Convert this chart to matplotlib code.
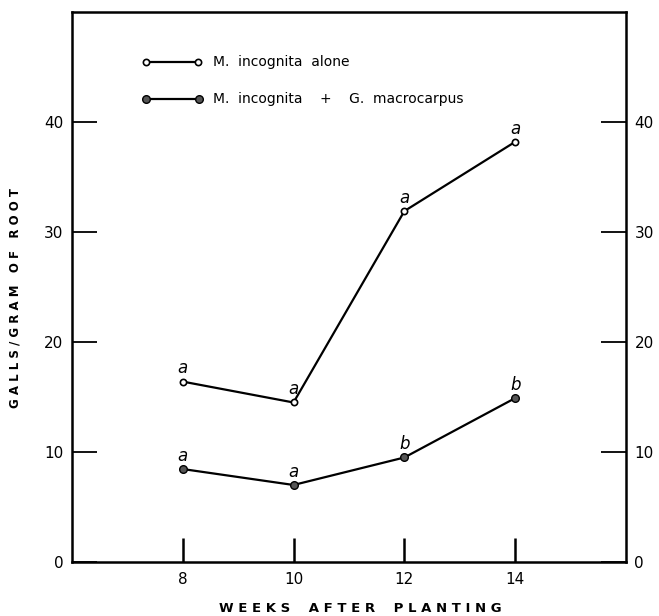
import matplotlib.pyplot as plt

weeks = [8, 10, 12, 14]
alone = [16.4, 14.5, 31.9, 38.2]
combined = [8.45, 7.0, 9.5, 14.9]
alone_letters = ['a', 'a', 'a', 'a']
combined_letters = ['a', 'a', 'b', 'b']

plt.rcParams['font.family'] = 'DejaVu Sans'

fig = plt.figure(figsize=(6.59, 6.16), dpi=100)
ax = fig.add_axes([0.109, 0.0877, 0.841, 0.8928])

ax.plot(weeks, alone, color='k', lw=1.6, marker='o', ms=4.5,
        mfc='white', mec='k', mew=1.2)
ax.plot(weeks, combined, color='k', lw=1.6, marker='o', ms=5.5,
        mfc='#555555', mec='k', mew=1.0)

for x, y, s in zip(weeks, alone, alone_letters):
    ax.annotate(s, (x, y), xytext=(0, 3), textcoords='offset points',
                ha='center', va='bottom', fontsize=12, style='italic')
for x, y, s in zip(weeks, combined, combined_letters):
    ax.annotate(s, (x, y), xytext=(0, 3), textcoords='offset points',
                ha='center', va='bottom', fontsize=12, style='italic')

ax.set_xlim(6, 16)
ax.set_ylim(0, 50)
ax.set_xticks(weeks)
ax.set_yticks([0, 10, 20, 30, 40])
ax.set_yticklabels(['0', '10', '20', '30', '40'])

ax.tick_params(axis='y', direction='in', length=18, width=1.3,
               left=True, right=True, labelleft=True, labelright=True,
               labelsize=11, pad=6)
ax.tick_params(axis='x', direction='in', length=17, width=1.8,
               labelsize=11, pad=7)
for sp in ax.spines.values():
    sp.set_linewidth(1.8)

ax.set_xlabel('W E E K S    A F T E R    P L A N T I N G',
              fontsize=9.5, fontweight='bold')
ax.xaxis.set_label_coords(0.52, -0.072)
ax.set_ylabel('G A L L S / G R A M   O F   R O O T',
              fontsize=8.5, fontweight='bold')
ax.yaxis.set_label_coords(-0.09, 0.48)

# legend drawn as sample lines with text
ax.plot([7.33, 8.27], [45.5, 45.5], color='k', lw=1.6, marker='o', ms=4.5,
        mfc='white', mec='k', mew=1.2)
ax.text(8.55, 45.5, 'M.  incognita  alone', fontsize=10, va='center')
ax.plot([7.33, 8.3], [42.1, 42.1], color='k', lw=1.6, marker='o', ms=5.5,
        mfc='#555555', mec='k', mew=1.0)
ax.text(8.55, 42.1, 'M.  incognita    +    G.  macrocarpus', fontsize=10,
        va='center')

fig.savefig('out.png', dpi=100)
